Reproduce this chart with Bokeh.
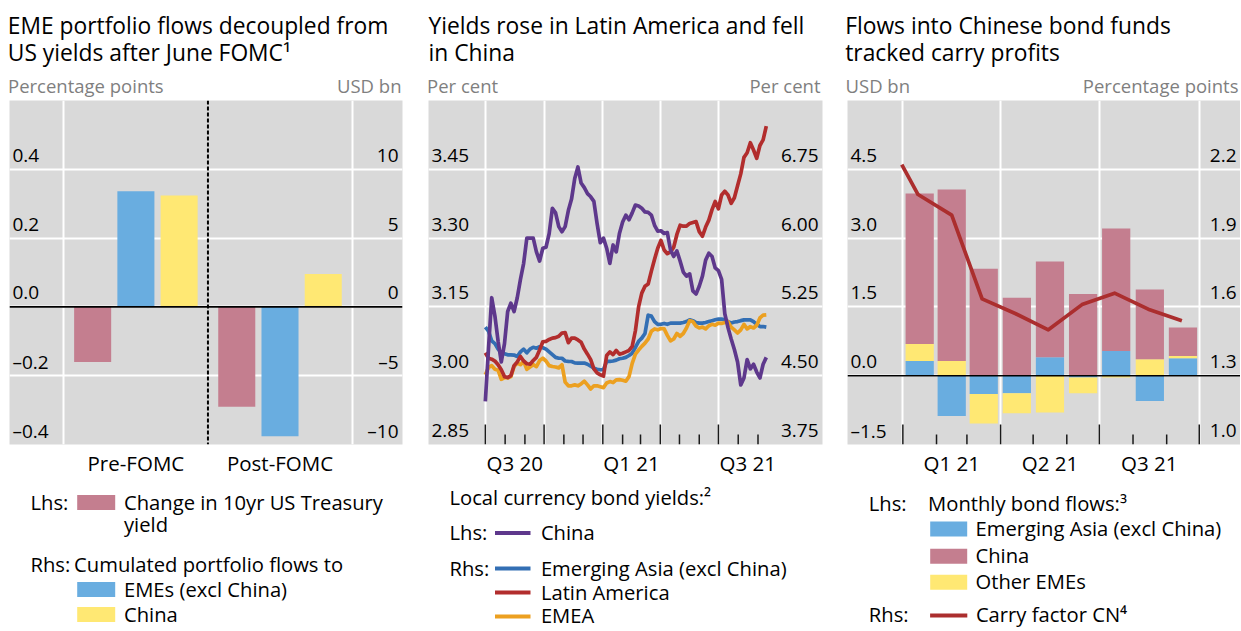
import numpy as np
import pandas as pd
from bokeh.plotting import figure
from bokeh.models import Range1d, LinearAxis, FixedTicker, Grid, Span, ColumnDataSource
from bokeh.layouts import column, row
from bokeh.embed import file_html
from bokeh.resources import INLINE
from bokeh.core.properties import value

# ---------------------------------------------------------------- data
# Panel 1: EME portfolio flows vs US yields around June FOMC
p1_periods = ["Pre-FOMC", "Post-FOMC"]
p1_ust_change = [-0.16, -0.29]        # lhs, percentage points
p1_flows_emes = [8.4, -9.4]           # rhs, USD bn
p1_flows_china = [8.1, 2.4]           # rhs, USD bn
p1_lhs_ticks = [-0.4, -0.2, 0.0, 0.2, 0.4]
p1_lhs_labels = ["–0.4", "–0.2", "0.0", "0.2", "0.4"]
p1_rhs_ticks = [-10, -5, 0, 5, 10]
p1_rhs_labels = ["–10", "–5", "0", "5", "10"]

# Panel 2: local currency bond yields (per cent), observations every 5 days from 1 Jul 2020
p2_first_date = "2020-07-01"
p2_china = [2.944, 3.06, 3.17, 3.13, 3.075, 3.03, 3.07, 3.14, 3.158, 3.14,
            3.17, 3.21, 3.245, 3.30, 3.30, 3.30, 3.27, 3.25, 3.278, 3.28,
            3.31, 3.365, 3.355, 3.325, 3.314, 3.325, 3.36, 3.385, 3.43, 3.455,
            3.42, 3.41, 3.397, 3.39, 3.38, 3.332, 3.29, 3.30, 3.278, 3.245,
            3.285, 3.27, 3.31, 3.335, 3.35, 3.34, 3.355, 3.372, 3.37, 3.365,
            3.357, 3.356, 3.35, 3.328, 3.315, 3.316, 3.31, 3.312, 3.274, 3.26,
            3.272, 3.25, 3.226, 3.217, 3.222, 3.185, 3.178, 3.195, 3.217, 3.252,
            3.267, 3.26, 3.235, 3.229, 3.21, 3.135, 3.105, 3.08, 3.057, 3.03,
            2.98, 2.995, 3.035, 3.015, 3.025, 3.008, 2.995, 3.025, 3.04]
p2_em_asia = [5.03, 4.985, 4.88, 4.85, 4.79, 4.75, 4.74, 4.728, 4.728, 4.725,
              4.71, 4.76, 4.79, 4.75, 4.79, 4.81, 4.80, 4.815, 4.805, 4.79,
              4.76, 4.73, 4.70, 4.69, 4.69, 4.66, 4.656, 4.655, 4.64, 4.638,
              4.638, 4.638, 4.625, 4.605, 4.58, 4.57, 4.565, 4.565, 4.656, 4.656,
              4.66, 4.67, 4.685, 4.69, 4.70, 4.72, 4.745, 4.81, 4.875, 4.91,
              4.96, 5.16, 5.15, 5.09, 5.06, 5.06, 5.07, 5.06, 5.073, 5.073,
              5.073, 5.073, 5.08, 5.09, 5.11, 5.10, 5.08, 5.073, 5.073, 5.08,
              5.09, 5.10, 5.11, 5.116, 5.116, 5.11, 5.09, 5.075, 5.085, 5.09,
              5.10, 5.109, 5.109, 5.109, 5.09, 5.06, 5.036, 5.036, 5.03]
p2_latam = [4.75, 4.69, 4.68, 4.66, 4.62, 4.565, 4.49, 4.48, 4.50, 4.61,
            4.65, 4.71, 4.66, 4.63, 4.625, 4.665, 4.70, 4.78, 4.87, 4.875,
            4.895, 4.91, 4.915, 4.93, 4.965, 4.97, 4.86, 4.91, 4.91, 4.89,
            4.865, 4.79, 4.735, 4.675, 4.575, 4.53, 4.51, 4.495, 4.72, 4.76,
            4.73, 4.775, 4.735, 4.745, 4.76, 4.775, 4.82, 4.99, 5.25, 5.40,
            5.475, 5.50, 5.64, 5.77, 5.89, 5.975, 5.87, 5.83, 5.85, 5.90,
            6.04, 6.14, 6.13, 6.13, 6.16, 6.17, 6.18, 6.07, 6.02, 6.12,
            6.196, 6.31, 6.40, 6.32, 6.47, 6.51, 6.47, 6.38, 6.44, 6.57,
            6.70, 6.88, 6.93, 7.04, 6.96, 6.87, 7.01, 7.07, 7.22]
p2_emea = [4.51, 4.59, 4.61, 4.57, 4.56, 4.46, 4.48, 4.475, 4.49, 4.60,
           4.638, 4.62, 4.656, 4.57, 4.595, 4.62, 4.60, 4.665, 4.69, 4.66,
           4.61, 4.60, 4.595, 4.585, 4.62, 4.43, 4.39, 4.39, 4.40, 4.39,
           4.41, 4.44, 4.40, 4.355, 4.39, 4.39, 4.38, 4.37, 4.42, 4.436,
           4.425, 4.455, 4.457, 4.45, 4.44, 4.49, 4.635, 4.735, 4.78, 4.82,
           4.855, 4.90, 4.985, 5.01, 5.0, 5.015, 5.01, 4.94, 4.88, 4.90,
           4.96, 4.93, 4.96, 5.02, 5.10, 5.09, 5.04, 5.02, 5.03, 5.01,
           5.045, 5.06, 5.05, 5.073, 5.07, 5.08, 5.09, 5.03, 5.00, 4.965,
           5.0, 5.06, 5.01, 5.035, 5.02, 5.05, 5.13, 5.16, 5.163]
p2_lhs_ticks = [2.85, 3.00, 3.15, 3.30, 3.45]
p2_lhs_labels = ["2.85", "3.00", "3.15", "3.30", "3.45"]
p2_rhs_ticks = [3.75, 4.50, 5.25, 6.00, 6.75]
p2_rhs_labels = ["3.75", "4.50", "5.25", "6.00", "6.75"]
p2_quarter_starts = ["2020-07-01", "2020-10-01", "2021-01-01", "2021-04-01", "2021-07-01"]
p2_month_starts = ["2020-08-01", "2020-09-01", "2020-11-01", "2020-12-01", "2021-02-01",
                   "2021-03-01", "2021-05-01", "2021-06-01", "2021-08-01", "2021-09-01"]
p2_label_quarters = ["2020Q3", "2021Q1", "2021Q3"]
p2_quarter_labels = ["Q3 20", "Q1 21", "Q3 21"]

# Panel 3: monthly bond fund flows (USD bn) and carry factor (percentage points)
p3_months = ["2021-01", "2021-02", "2021-03", "2021-04", "2021-05",
             "2021-06", "2021-07", "2021-08", "2021-09"]
p3_em_asia = [0.32, -0.88, -0.40, -0.38, 0.40, -0.04, 0.54, -0.55, 0.38]
p3_other_emes = [0.37, 0.32, -0.64, -0.44, -0.80, -0.34, -0.04, 0.36, 0.05]
p3_china = [3.28, 3.74, 2.33, 1.70, 2.09, 1.78, 2.67, 1.52, 0.62]
p3_carry_dates = ["2020-12-31", "2021-01-15", "2021-02-15", "2021-03-15", "2021-04-15",
                  "2021-05-15", "2021-06-15", "2021-07-15", "2021-08-15", "2021-09-15"]
p3_carry = [2.22, 2.09, 2.00, 1.635, 1.57, 1.50, 1.61, 1.66, 1.59, 1.54]
p3_lhs_ticks = [-1.5, 0.0, 1.5, 3.0, 4.5]
p3_lhs_labels = ["–1.5", "0.0", "1.5", "3.0", "4.5"]
p3_rhs_ticks = [1.0, 1.3, 1.6, 1.9, 2.2]
p3_rhs_labels = ["1.0", "1.3", "1.6", "1.9", "2.2"]
p3_quarter_starts = ["2021-01-01", "2021-04-01", "2021-07-01", "2021-10-01"]
p3_month_starts = ["2021-02-01", "2021-03-01", "2021-05-01", "2021-06-01", "2021-08-01", "2021-09-01"]
p3_label_quarters = ["2021Q1", "2021Q2", "2021Q3"]
p3_quarter_labels = ["Q1 21", "Q2 21", "Q3 21"]

titles = [["EME portfolio flows decoupled from", "US yields after June FOMC¹"],
          ["Yields rose in Latin America and fell", "in China"],
          ["Flows into Chinese bond funds", "tracked carry profits"]]
units_left = ["Percentage points", "Per cent", "USD bn"]
units_right = ["USD bn", "Per cent", "Percentage points"]

# ---------------------------------------------------------------- style
FONT = "Open Sans"
TXT = "#000000"
UNIT_TXT = "#7f7f7f"
BG = "#d9d9d9"
PINK = "#c47e8f"
BAR_BLUE = "#69ade0"
YELLOW = "#ffe873"
PURPLE = "#5e388c"
LINE_BLUE = "#336fb4"
RED = "#b22d2d"
ORANGE = "#eca020"
CARRY = "#ab2e2e"
TITLE_FS = "22.8px"
UNIT_FS = "18.5px"
TICK_FS = "19px"
XLAB_FS = "20.5px"
LEG_FS = "20.2px"

HEADER_H = 100
CHART_H = 384
FRAME_BOTTOM = 40
FRAME_H = CHART_H - FRAME_BOTTOM
LEGEND_H = 147
W1, W2, W3 = 428, 419, 393
TOTAL_W = W1 + W2 + W3
DAY_MS = 86400000.0
LABEL_DY = -14            # tick label centre sits this many px above its gridline
MAJOR_TICK_PX, MINOR_TICK_PX = 20, 10


def ms(d):
    return pd.Timestamp(d).value / 1e6


def period_mid(p):
    s = p.start_time
    e = (p + 1).start_time
    return ms(s + (e - s) / 2)


def make_chart(width, x_range, y_range, y_right, border_left, border_right):
    p = figure(width=width, height=CHART_H, x_range=x_range, y_range=y_range,
               x_axis_type=None, y_axis_type=None,
               output_backend="svg", toolbar_location=None,
               background_fill_color=BG, border_fill_color="white",
               outline_line_color=None,
               min_border_left=border_left, min_border_right=border_right,
               min_border_top=0, min_border_bottom=FRAME_BOTTOM)
    p.extra_y_ranges = {"right": y_right}
    return p


def add_grids(p, xticks, yticks):
    p.add_layout(Grid(dimension=0, ticker=FixedTicker(ticks=[float(t) for t in xticks]),
                      grid_line_color="white", grid_line_width=2))
    p.add_layout(Grid(dimension=1, ticker=FixedTicker(ticks=[float(t) for t in yticks]),
                      grid_line_color="white", grid_line_width=2))


def add_value_labels(p, lticks, llabels, rticks, rlabels):
    x0, x1 = p.x_range.start, p.x_range.end
    p.text(x=[x0] * len(lticks), y=lticks, text=llabels, text_align="left",
           text_baseline="alphabetic", x_offset=3, y_offset=LABEL_DY,
           text_font=value(FONT), text_font_size=value(TICK_FS), text_color=TXT)
    p.text(x=[x1] * len(rticks), y=rticks, text=rlabels, text_align="right",
           text_baseline="alphabetic", x_offset=-4, y_offset=LABEL_DY,
           text_font=value(FONT), text_font_size=value(TICK_FS), text_color=TXT,
           y_range_name="right")


def add_time_ticks(p, major, minor):
    """Inward tick marks at quarter (long) and month (short) boundaries."""
    y0 = p.y_range.start
    per_px = (p.y_range.end - p.y_range.start) / FRAME_H
    for pos, length in [(major, MAJOR_TICK_PX), (minor, MINOR_TICK_PX)]:
        pos = [float(t) for t in pos]
        p.segment(x0=pos, x1=pos, y0=[y0] * len(pos), y1=[y0 + length * per_px] * len(pos),
                  line_color="#1a1a1a", line_width=1.5)


def add_label_axis(p, label_pos, labels):
    label_pos = [float(t) for t in label_pos]
    ax = LinearAxis(ticker=FixedTicker(ticks=label_pos),
                    major_label_overrides=dict(zip(label_pos, labels)),
                    major_tick_line_color=None, minor_tick_line_color=None,
                    major_tick_in=0, major_tick_out=0, axis_line_color=None,
                    major_label_standoff=4,
                    major_label_text_font=FONT, major_label_text_font_size=XLAB_FS,
                    major_label_text_color=TXT)
    p.add_layout(ax, "below")


# ---------------------------------------------------------------- panel 1
p1_x = np.arange(1, len(p1_periods) + 1).astype(float)
p1 = make_chart(W1, Range1d(0.123, 2.85), Range1d(-0.4, 0.6), Range1d(-10, 15), 9, 26)
add_grids(p1, [p1_x[0] - 0.5, p1_x[-1] + 0.5], p1_lhs_ticks)
add_value_labels(p1, p1_lhs_ticks, p1_lhs_labels, p1_rhs_ticks, p1_rhs_labels)
dodge, bw = 0.30, 0.257
p1.vbar(x=p1_x - dodge, top=p1_ust_change, bottom=0, width=bw, color=PINK, line_color=None)
p1.vbar(x=p1_x, top=p1_flows_emes, bottom=0, width=bw, color=BAR_BLUE, line_color=None,
        y_range_name="right")
p1.vbar(x=p1_x + dodge, top=p1_flows_china, bottom=0, width=bw, color=YELLOW, line_color=None,
        y_range_name="right")
p1.add_layout(Span(location=0, dimension="width", line_color="black", line_width=1.6))
p1.add_layout(Span(location=float(p1_x.mean()), dimension="height", line_color="black",
                   line_width=2, line_dash="4 2"))
add_label_axis(p1, p1_x, p1_periods)

# ---------------------------------------------------------------- panel 2
p2_dates = pd.date_range(p2_first_date, periods=len(p2_china), freq="5D")
p2 = make_chart(W2, Range1d(ms("2020-04-03"), ms("2021-12-11")), Range1d(2.85, 3.60),
                Range1d(3.75, 7.50), 0, 25)
p2_q = [ms(d) for d in p2_quarter_starts]
add_grids(p2, p2_q, p2_lhs_ticks)
add_value_labels(p2, p2_lhs_ticks, p2_lhs_labels, p2_rhs_ticks, p2_rhs_labels)
src2 = ColumnDataSource(dict(date=p2_dates, china=p2_china, em_asia=p2_em_asia,
                             latam=p2_latam, emea=p2_emea))
p2.line("date", "em_asia", source=src2, y_range_name="right", color=LINE_BLUE,
        line_width=3.7, line_join="round")
p2.line("date", "emea", source=src2, y_range_name="right", color=ORANGE,
        line_width=3.7, line_join="round")
p2.line("date", "latam", source=src2, y_range_name="right", color=RED,
        line_width=3.7, line_join="round")
p2.line("date", "china", source=src2, color=PURPLE, line_width=3.7, line_join="round")
add_time_ticks(p2, p2_q, [ms(d) for d in p2_month_starts])
add_label_axis(p2, [period_mid(pd.Period(q, freq="Q")) for q in p2_label_quarters],
               p2_quarter_labels)

# ---------------------------------------------------------------- panel 3
p3 = make_chart(W3, Range1d(ms("2020-11-11"), ms("2021-11-08")), Range1d(-1.5, 6.0),
                Range1d(1.0, 2.5), 0, 0)
p3_q = [ms(d) for d in p3_quarter_starts]
add_grids(p3, p3_q, p3_lhs_ticks)
add_value_labels(p3, p3_lhs_ticks, p3_lhs_labels, p3_rhs_ticks, p3_rhs_labels)
p3_centers = [period_mid(pd.Period(m, freq="M")) for m in p3_months]
p3_width = 26 * DAY_MS
pos_base = np.zeros(len(p3_months))
neg_base = np.zeros(len(p3_months))
for vals, colr in [(p3_em_asia, BAR_BLUE), (p3_other_emes, YELLOW), (p3_china, PINK)]:
    v = np.array(vals, dtype=float)
    bottom = np.where(v >= 0, pos_base, neg_base)
    top = bottom + v
    pos_base = np.where(v >= 0, top, pos_base)
    neg_base = np.where(v < 0, top, neg_base)
    p3.vbar(x=p3_centers, bottom=bottom, top=top, width=p3_width, color=colr, line_color=None)
p3.add_layout(Span(location=0, dimension="width", line_color="black", line_width=1.6))
p3.line(x=pd.to_datetime(p3_carry_dates), y=p3_carry, y_range_name="right", color=CARRY,
        line_width=3.7, line_join="round")
add_time_ticks(p3, p3_q, [ms(d) for d in p3_month_starts])
add_label_axis(p3, [period_mid(pd.Period(q, freq="Q")) for q in p3_label_quarters],
               p3_quarter_labels)


# ---------------------------------------------------------------- header
def blank(height):
    return figure(width=TOTAL_W, height=height, x_range=Range1d(0, TOTAL_W),
                  y_range=Range1d(0, height), x_axis_type=None, y_axis_type=None,
                  output_backend="svg", toolbar_location=None, min_border=0,
                  outline_line_color=None)


hdr = blank(HEADER_H)
title_x = [7.3, 428, 844.7]
hdr.text(x=[tx for tx in title_x for _ in (0, 1)], y=[75.3, 48.2] * 3,
         text=[t for pair in titles for t in pair], text_align="left",
         text_baseline="alphabetic", text_font=value(FONT),
         text_font_size=value(TITLE_FS), text_color=TXT)
hdr.text(x=[7.5, 426.5, 845], y=[15.2] * 3, text=units_left, text_align="left",
         text_baseline="alphabetic", text_font=value(FONT),
         text_font_size=value(UNIT_FS), text_color=UNIT_TXT)
hdr.text(x=[401, 820, 1238], y=[15.2] * 3, text=units_right, text_align="right",
         text_baseline="alphabetic", text_font=value(FONT),
         text_font_size=value(UNIT_FS), text_color=UNIT_TXT)

# ---------------------------------------------------------------- legend
leg = blank(LEGEND_H)


def leg_text(xs, ys, texts):
    leg.text(x=xs, y=ys, text=texts, text_align="left", text_baseline="alphabetic",
             text_font=value(FONT), text_font_size=value(LEG_FS), text_color=TXT)


# panel 1
leg_text([30, 123.5, 123.5, 30, 73.6, 123.5, 123.5],
         [129.7, 129.7, 107.5, 67.5, 67.5, 42.5, 17.5],
         ["Lhs:", "Change in 10yr US Treasury", "yield", "Rhs:", "Cumulated portfolio flows to",
          "EMEs (excl China)", "China"])
leg.rect(x=[95.7] * 3, y=[129, 42, 17], width=38, height=15,
         color=[PINK, BAR_BLUE, YELLOW], line_color=None)
# panel 2
leg_text([449, 449, 540.4, 449, 540.4, 540.4, 540.4],
         [135, 99.5, 99.5, 64, 64, 40, 16.5],
         ["Local currency bond yields:²", "Lhs:", "China", "Rhs:",
          "Emerging Asia (excl China)", "Latin America", "EMEA"])
leg.segment(x0=[494.5] * 4, x1=[530] * 4, y0=[98.5, 63, 39, 15], y1=[98.5, 63, 39, 15],
            line_color=[PURPLE, LINE_BLUE, RED, ORANGE], line_width=4)
# panel 3
leg_text([868.3, 927.6, 975, 975, 975, 868.3, 975.4],
         [129, 129, 103.7, 76.2, 50.3, 17.5, 17.5],
         ["Lhs:", "Monthly bond flows:³", "Emerging Asia (excl China)", "China", "Other EMEs",
          "Rhs:", "Carry factor CN⁴"])
leg.rect(x=[948.2] * 3, y=[102.5, 75.2, 49.2], width=37, height=15,
         color=[BAR_BLUE, PINK, YELLOW], line_color=None)
leg.segment(x0=[929.6], x1=[966.8], y0=[16], y1=[16], line_color=CARRY, line_width=4)

layout = column(hdr, row(p1, p2, p3), leg)
open("out.html", "w").write(file_html(layout, INLINE))
